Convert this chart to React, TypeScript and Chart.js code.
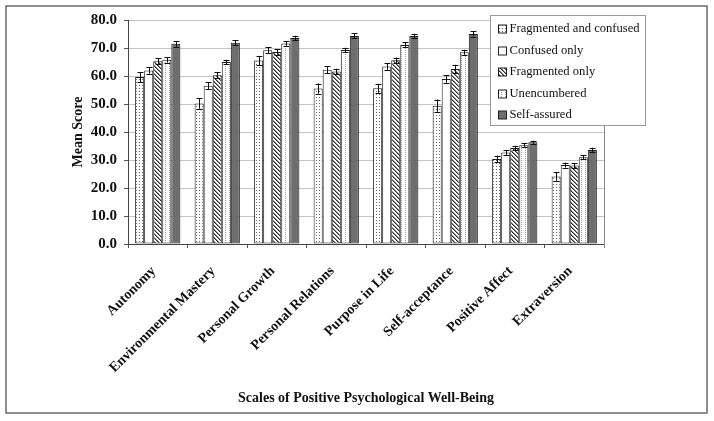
import React, { useEffect, useRef } from 'react';
import { Chart, registerables } from 'chart.js';

Chart.register(...registerables);

const categories = [
  'Autonomy',
  'Environmental Mastery',
  'Personal Growth',
  'Personal Relations',
  'Purpose in Life',
  'Self-acceptance',
  'Positive Affect',
  'Extraversion',
];

const seriesNames = [
  'Fragmented and confused',
  'Confused only',
  'Fragmented only',
  'Unencumbered',
  'Self-assured',
];

const fragmentedAndConfused = [59.6, 50.2, 65.5, 55.5, 55.6, 49.4, 30.4, 24.1];
const confusedOnly = [62.0, 56.5, 69.2, 62.2, 63.4, 58.9, 32.7, 28.2];
const fragmentedOnly = [65.3, 60.3, 68.6, 61.6, 65.6, 62.5, 34.3, 28.0];
const unencumbered = [65.8, 65.0, 71.6, 69.3, 71.1, 68.5, 35.3, 31.0];
const selfAssured = [71.5, 71.9, 73.6, 74.3, 74.3, 75.0, 36.3, 33.6];

const errFragmentedAndConfused = [1.8, 1.9, 1.6, 1.8, 1.6, 2.2, 1.2, 1.5];
const errConfusedOnly = [1.2, 1.2, 1.0, 1.2, 1.2, 1.3, 0.9, 0.9];
const errFragmentedOnly = [1.0, 1.0, 1.0, 1.0, 1.0, 1.5, 0.8, 0.9];
const errUnencumbered = [1.0, 0.8, 0.8, 0.8, 0.9, 0.9, 0.6, 0.7];
const errSelfAssured = [1.0, 0.9, 0.8, 0.9, 0.8, 0.9, 0.6, 0.8];

const yMin = 0;
const yMax = 80;
const yStep = 10;

const xTitle = 'Scales of Positive Psychological Well-Being';
const yTitle = 'Mean Score';

const SERIF = "'Liberation Serif', 'Times New Roman', serif";

function makeTile(size: number, painter: (x: number, y: number) => string | null) {
  const c = document.createElement('canvas');
  c.width = size;
  c.height = size;
  const g = c.getContext('2d')!;
  g.fillStyle = '#ffffff';
  g.fillRect(0, 0, size, size);
  for (let y = 0; y < size; y++) {
    for (let x = 0; x < size; x++) {
      const col = painter(x, y);
      if (col) {
        g.fillStyle = col;
        g.fillRect(x, y, 1, 1);
      }
    }
  }
  return c;
}

export default function App() {
  const ref = useRef<HTMLCanvasElement | null>(null);

  useEffect(() => {
    const canvas = ref.current!;
    const ctx = canvas.getContext('2d')!;

    const pDots = ctx.createPattern(
      makeTile(3, (x, y) => (x === 1 && y === 1 ? '#6a6a6a' : null)),
      'repeat'
    )!;
    const pHatch = ctx.createPattern(
      makeTile(4, (x, y) => {
        const d = (x - y + 8) % 4;
        if (d === 0) return '#2e2e2e';
        if (d === 1) return '#8a8a8a';
        return null;
      }),
      'repeat'
    )!;
    const pLight = ctx.createPattern(
      makeTile(4, (x, y) => (x === 1 && (y === 0 || y === 2) ? '#a0a0a0' : null)),
      'repeat'
    )!;

    const values = [fragmentedAndConfused, confusedOnly, fragmentedOnly, unencumbered, selfAssured];
    const errors = [errFragmentedAndConfused, errConfusedOnly, errFragmentedOnly, errUnencumbered, errSelfAssured];
    const fills: any[] = [pDots, '#ffffff', pHatch, pLight, '#6e6e6e'];

    const framePlugin = {
      id: 'frame',
      beforeDraw(chart: any) {
        const c = chart.ctx;
        c.save();
        c.fillStyle = '#ffffff';
        c.fillRect(0, 0, chart.width, chart.height);
        c.strokeStyle = '#6a6a6a';
        c.lineWidth = 1.5;
        c.strokeRect(6, 6, chart.width - 13, chart.height - 14);
        c.restore();
      },
    };

    const rightBorderPlugin = {
      id: 'rightBorder',
      beforeDatasetsDraw(chart: any) {
        const { ctx: c, chartArea } = chart;
        c.save();
        c.strokeStyle = '#8a8a8a';
        c.lineWidth = 1;
        const x = Math.round(chartArea.right) + 0.5;
        c.beginPath();
        c.moveTo(x, chartArea.top);
        c.lineTo(x, chartArea.bottom + 4);
        c.stroke();
        c.restore();
      },
    };

    const errorBarPlugin = {
      id: 'errorBars',
      afterDatasetsDraw(chart: any) {
        const c = chart.ctx;
        const ys = chart.scales.y;
        c.save();
        c.strokeStyle = '#111111';
        c.lineWidth = 1;
        chart.data.datasets.forEach((ds: any, i: number) => {
          const meta = chart.getDatasetMeta(i);
          meta.data.forEach((bar: any, j: number) => {
            const v = ds.data[j];
            const e = errors[i][j];
            const x = Math.round(bar.x) + 0.5;
            const yt = ys.getPixelForValue(v + e);
            const yb = ys.getPixelForValue(v - e);
            c.beginPath();
            c.moveTo(x, yt);
            c.lineTo(x, yb);
            c.moveTo(x - 3, Math.round(yt) + 0.5);
            c.lineTo(x + 3, Math.round(yt) + 0.5);
            c.moveTo(x - 3, Math.round(yb) + 0.5);
            c.lineTo(x + 3, Math.round(yb) + 0.5);
            c.stroke();
          });
        });
        c.restore();
      },
    };

    const legendPlugin = {
      id: 'boxLegend',
      afterDraw(chart: any) {
        const { ctx: c, chartArea } = chart;
        const x0 = Math.round(chartArea.right) - 114 + 0.5;
        const y0 = Math.round(chartArea.top) - 5 + 0.5;
        const w = 155;
        const h = 110;
        c.save();
        c.fillStyle = '#ffffff';
        c.fillRect(x0, y0, w, h);
        c.strokeStyle = '#9a9a9a';
        c.lineWidth = 1;
        c.strokeRect(x0, y0, w, h);
        c.font = `12.6px ${SERIF}`;
        c.textBaseline = 'middle';
        c.textAlign = 'left';
        chart.data.datasets.forEach((ds: any, i: number) => {
          const cy = y0 + 13.5 + i * 21.5;
          const sx = x0 + 8;
          c.fillStyle = ds.backgroundColor;
          c.fillRect(sx, Math.round(cy - 4), 8, 8);
          c.strokeStyle = '#222222';
          c.strokeRect(sx, Math.round(cy - 4), 8, 8);
          c.fillStyle = '#111111';
          c.fillText(ds.label, sx + 11, cy);
        });
        c.restore();
      },
    };

    const chart = new Chart(canvas, {
      type: 'bar',
      data: {
        labels: categories,
        datasets: seriesNames.map((name, i) => ({
          label: name,
          data: values[i],
          backgroundColor: fills[i],
          borderColor: '#1a1a1a',
          borderWidth: 1,
          borderSkipped: false,
          categoryPercentage: 0.76,
          barPercentage: 1.0,
        })),
      },
      options: {
        responsive: false,
        animation: false,
        layout: { padding: { top: 20, right: 110, left: 0, bottom: 0 } },
        plugins: {
          legend: { display: false },
          tooltip: { enabled: false },
        },
        scales: {
          x: {
            grid: {
              offset: true,
              drawOnChartArea: false,
              tickLength: 4,
              color: '#555555',
            },
            border: { color: '#444444', width: 1 },
            ticks: {
              autoSkip: false,
              minRotation: 45,
              maxRotation: 45,
              padding: 15,
              labelOffset: -4,
              color: '#111111',
              font: { family: SERIF, size: 14, weight: 'bold' },
            },
            title: {
              display: true,
              text: xTitle,
              color: '#111111',
              font: { family: SERIF, size: 14, weight: 'bold' },
              padding: { top: 0, bottom: 14 },
            },
            afterFit(scale: any) {
              scale.height = 177;
            },
          },
          y: {
            min: yMin,
            max: yMax,
            grid: {
              color: '#c4c4c4',
              tickColor: '#555555',
              tickLength: 4,
            },
            border: { color: '#444444', width: 1 },
            ticks: {
              stepSize: yStep,
              padding: 7,
              color: '#111111',
              font: { family: SERIF, size: 15, weight: 'bold' },
              callback: (v: any) => Number(v).toFixed(1),
            },
            title: {
              display: true,
              text: yTitle,
              color: '#111111',
              font: { family: SERIF, size: 14, weight: 'bold' },
              padding: { top: 70, bottom: 0 },
            },
            afterFit(scale: any) {
              scale.width = 128;
            },
          },
        },
      },
      plugins: [framePlugin, rightBorderPlugin, errorBarPlugin, legendPlugin],
    } as any);

    return () => chart.destroy();
  }, []);

  return (
    <div style={{ position: 'fixed', left: 0, top: 0, width: 714, height: 421, background: '#fff' }}>
      <canvas ref={ref} width={714} height={421} />
    </div>
  );
}
